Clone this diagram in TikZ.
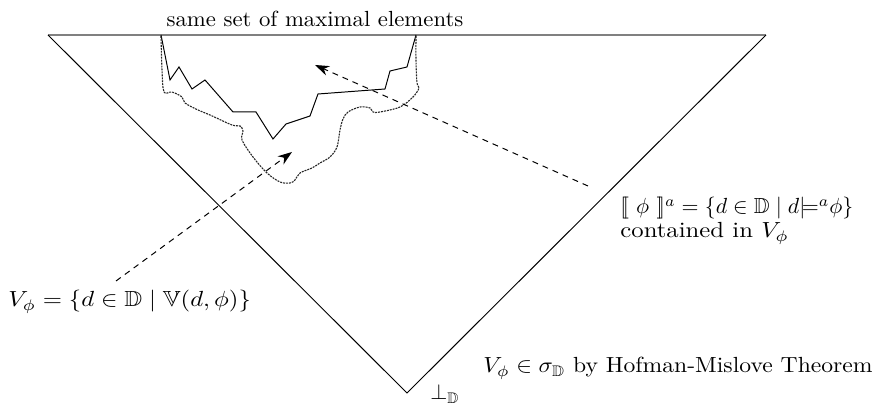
\documentclass[tikz,border=0pt]{standalone}
\usepackage{amssymb}
\usetikzlibrary{arrows.meta}
\begin{document}
\begin{tikzpicture}[x=0.457pt,y=-0.457pt,
  topedge/.style={draw=gray,line width=0.9pt},
  sideedge/.style={draw=black,line width=0.45pt},
  zig/.style={draw=black,line width=0.45pt,line join=miter},
  dotcurve/.style={draw=black!85,line width=0.5pt,dash pattern=on 0.9pt off 0.45pt},
  dasharrow/.style={draw=black,line width=0.45pt,dash pattern=on 2.7pt off 2.3pt,-{Stealth[length=6.5pt,width=4.6pt]}},
  lbl/.style={inner sep=0pt,anchor=base west}]
\useasboundingbox (0,0) rectangle (889,407);
\coordinate (tl) at (48,35);
\coordinate (tr) at (766,35);
\coordinate (bot) at (407,393);
\coordinate (zs) at (161,35);
\coordinate (ze) at (416,35);
\draw[topedge] (tl) -- (tr);
\draw[sideedge] (tl) -- (bot) -- (tr);
% zigzag
\draw[zig] (zs) -- (170,80) -- (179,67) -- (192,89) -- (205,80) -- (233,112) -- (256,112) -- (273,139) -- (286,124) -- (310,116) -- (318,94) -- (385,89) -- (390,71) -- (407,67) -- (ze);
% dotted curve
\draw[dotcurve] plot[smooth,tension=0.55] coordinates {(161,36) (162,70) (164,92) (172,92) (182,97) (185,103) (198,110) (210,115) (232,125) (240,126) (243,131) (242,140) (253,157) (267,173) (280,182) (290,183) (295,180) (300,173) (312,168) (320,163) (330,157) (337,147) (340,130) (343,119) (348,112) (360,107) (370,108) (373,112) (380,112) (400,107) (413,97) (419,88) (417,83) (416,60) (416,36)};
% arrows
\coordinate (a1s) at (116,281);
\coordinate (a1e) at (292,152);
\coordinate (a2s) at (588,186);
\coordinate (a2e) at (315,65);
\draw[dasharrow] (a1s) -- (a1e);
\draw[dasharrow] (a2s) -- (a2e);
% labels
\node[inner sep=0pt,anchor=base] (top) at (315,27) {\scalebox{1.04}[1]{same set of maximal elements}};
\node[lbl] (r1) at (620,214) {$[\![\ \phi\ ]\!]^{a} = \{d\in\mathbb{D}\mid d{\models^{a}}\phi\}$};
\node[lbl] (r2) at (620,238) {\scalebox{1.13}[1]{contained in $V_\phi$}};
\node[lbl] (lv) at (8,307) {\scalebox{1.13}[1]{$V_\phi = \{d\in\mathbb{D}\mid \mathbb{V}(d,\phi)\}$}};
\node[lbl] (hm) at (483,373) {\scalebox{1.08}[1]{$V_\phi\in\sigma_{\mathbb{D}}$ by Hofman-Mislove Theorem}};
\node[lbl] (bt) at (430,400) {$\bot_{\mathbb{D}}$};
\end{tikzpicture}
\end{document}
